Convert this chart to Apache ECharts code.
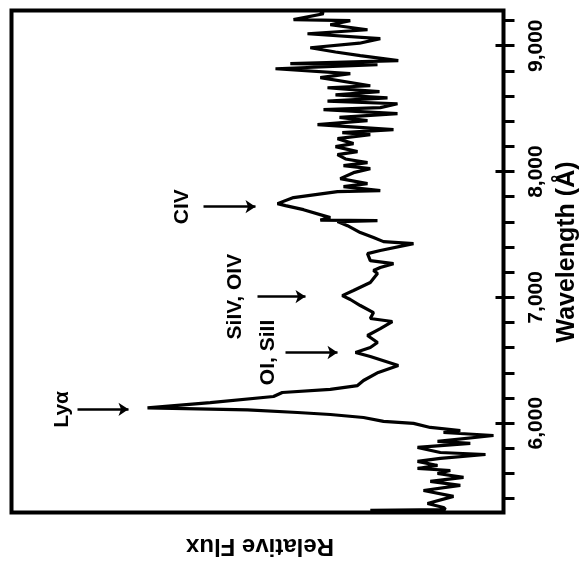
<!DOCTYPE html>
<html><head><meta charset="utf-8">
<script src="https://cdn.jsdelivr.net/npm/echarts@6/dist/echarts.min.js"></script>
<style>html,body{margin:0;padding:0;background:#fff}#c{width:579px;height:564px}</style>
</head><body><div id="c"></div>
<script>
// Spectrum (wavelength in Å, relative flux in arbitrary units)
const wavelength = [5307, 5314, 5330, 5362, 5418, 5465, 5505, 5537, 5569, 5600,
  5624, 5640, 5664, 5696, 5720, 5751, 5767, 5807, 5839, 5855,
  5902, 5926, 5942, 5966, 5998, 6014, 6045, 6069, 6085, 6105,
  6121, 6164, 6212, 6244, 6268, 6299, 6339, 6403, 6458, 6530,
  6562, 6601, 6641, 6697, 6752, 6808, 6832, 6879, 6935, 6983,
  7014, 7054, 7118, 7189, 7213, 7237, 7268, 7292, 7348, 7372,
  7427, 7443, 7475, 7515, 7570, 7602, 7610, 7614, 7634, 7697,
  7729, 7745, 7793, 7840, 7848, 7880, 7904, 7944, 7991, 8023,
  8047, 8071, 8100, 8134, 8158, 8198, 8222, 8261, 8293, 8309, 8333,
  8373, 8404, 8430, 8460, 8492, 8508, 8539, 8560, 8585, 8610, 8635, 8658, 8666, 8682, 8746,
  8778, 8817, 8849, 8857, 8881, 8921, 8950, 8984, 9020, 9056, 9095, 9127,
  9167, 9199, 9207, 9254, 9275];
const flux = [33.3, 14.5, 15, 19, 12.5, 20, 10.8, 18.3, 10, 16.5,
  13.3, 21.5, 16.5, 21.5, 15.8, 4.5, 15.8, 21.5, 8.3, 16.5,
  2.5, 15, 10.8, 18.3, 22.5, 30, 35, 43.3, 51.5, 64,
  89, 73.3, 57.5, 55.3, 43.3, 36.5, 35, 31.3, 26.3, 33.3,
  37, 33.3, 31.5, 34, 30.8, 27.8, 33.3, 32.5, 35.8, 38.3,
  40.3, 37.5, 33.3, 31.5, 32.5, 30.8, 27.5, 33.3, 34, 30.8,
  22.5, 30, 32.5, 35.8, 39, 41.5, 31.5, 45.8, 43.3, 50,
  54.5, 56.5, 52.5, 41.5, 30.8, 40, 34, 40.8, 37.5, 33.3,
  40, 34, 39.5, 41.5, 36.5, 42, 37.5, 41.5, 33.3, 40.3, 27.5,
  46.5, 34, 41, 26.5, 45, 30.8, 26.5, 44, 29, 42, 31, 41, 44, 33.3, 45.8,
  38.3, 57, 31.5, 53.3, 26.3, 35.8, 42, 48.3, 36, 30.8, 49, 34,
  43.3, 38.3, 52.5, 45, 45.8];

const majorTicks = [6000, 7000, 8000, 9000];
const minorTicks = [5400, 5600, 5800, 6000, 6200, 6400, 6600, 6800, 7000, 7200, 7400,
  7600, 7800, 8000, 8200, 8400, 8600, 8800, 9000, 9200];

// Emission line annotations
const lineLabels = ['Lyα', 'OI, SiII', 'SiIV, OIV', 'CIV'];
const lineWavelengths = [6110, 6562, 7006, 7721];
const arrowFrom = [106.5, 54.5, 61.5, 75];
const arrowTo = [93.75, 41.5, 49.5, 62];
const labelGap = [15.5, 17, 22, 21];

const FONT = '"Liberation Sans", Arial, Helvetica, sans-serif';

const chart = echarts.init(document.getElementById('c'), null, {renderer: 'canvas'});
const option = {
  animation: false,
  backgroundColor: '#fff',
  grid: {left: 11.5, right: 75.5, top: 10.5, bottom: 51.5, show: true,
    borderColor: '#000', borderWidth: 4, backgroundColor: 'transparent',
    containLabel: false, outerBoundsMode: 'none'},
  xAxis: {type: 'value', min: 0, max: 123, inverse: true,
    axisLine: {show: false}, axisTick: {show: false}, axisLabel: {show: false}, splitLine: {show: false}},
  yAxis: [{
    type: 'value', position: 'right', min: 5290, max: 9280,
    axisLine: {show: true, onZero: false, lineStyle: {color: '#000', width: 3}},
    axisTick: {show: true, inside: false, length: 11, customValues: minorTicks,
      lineStyle: {color: '#000', width: 3}},
    axisLabel: {show: true, customValues: majorTicks, rotate: 90, margin: 22,
      fontSize: 21, fontWeight: 'bold', color: '#000', fontFamily: FONT,
      formatter: v => Number(v).toLocaleString('en-US')},
    splitLine: {show: false}
  }, {
    type: 'value', position: 'right', min: 5290, max: 9280, offset: 0,
    axisLine: {show: false},
    axisTick: {show: true, inside: true, length: 8, customValues: majorTicks,
      lineStyle: {color: '#000', width: 3}},
    axisLabel: {show: false}, splitLine: {show: false}
  }],
  series: [{
    type: 'line', xAxisIndex: 0, yAxisIndex: 0,
    data: wavelength.map((w, i) => [flux[i], w]),
    showSymbol: false, symbol: 'none', smooth: false, clip: true,
    lineStyle: {color: '#000', width: 3.2},
    markLine: {
      silent: true, symbol: ['none', 'arrow'], symbolSize: 10,
      label: {show: false},
      lineStyle: {color: '#000', width: 2.5, type: 'solid'},
      emphasis: {disabled: true},
      data: lineWavelengths.map((w, i) => [{coord: [arrowFrom[i], w]}, {coord: [arrowTo[i], w]}])
    }
  }]
};
chart.setOption(option);

const graphics = lineLabels.map((t, i) => {
  const p = chart.convertToPixel({gridIndex: 0}, [arrowFrom[i], lineWavelengths[i]]);
  return {type: 'text', x: p[0] - labelGap[i], y: p[1], rotation: Math.PI / 2,
    style: {text: t, font: 'bold 21px ' + FONT, fill: '#000', align: 'center', verticalAlign: 'middle'}};
});
graphics.push({type: 'text', x: 567, y: 252, rotation: Math.PI / 2,
  style: {text: 'Wavelength (Å)', font: 'bold 25px ' + FONT, fill: '#000', align: 'center', verticalAlign: 'middle'}});
graphics.push({type: 'text', x: 260, y: 546, rotation: Math.PI,
  style: {text: 'Relative Flux', font: 'bold 24px ' + FONT, fill: '#000', align: 'center', verticalAlign: 'middle'}});
chart.setOption({graphic: graphics});
</script>
</body></html>
